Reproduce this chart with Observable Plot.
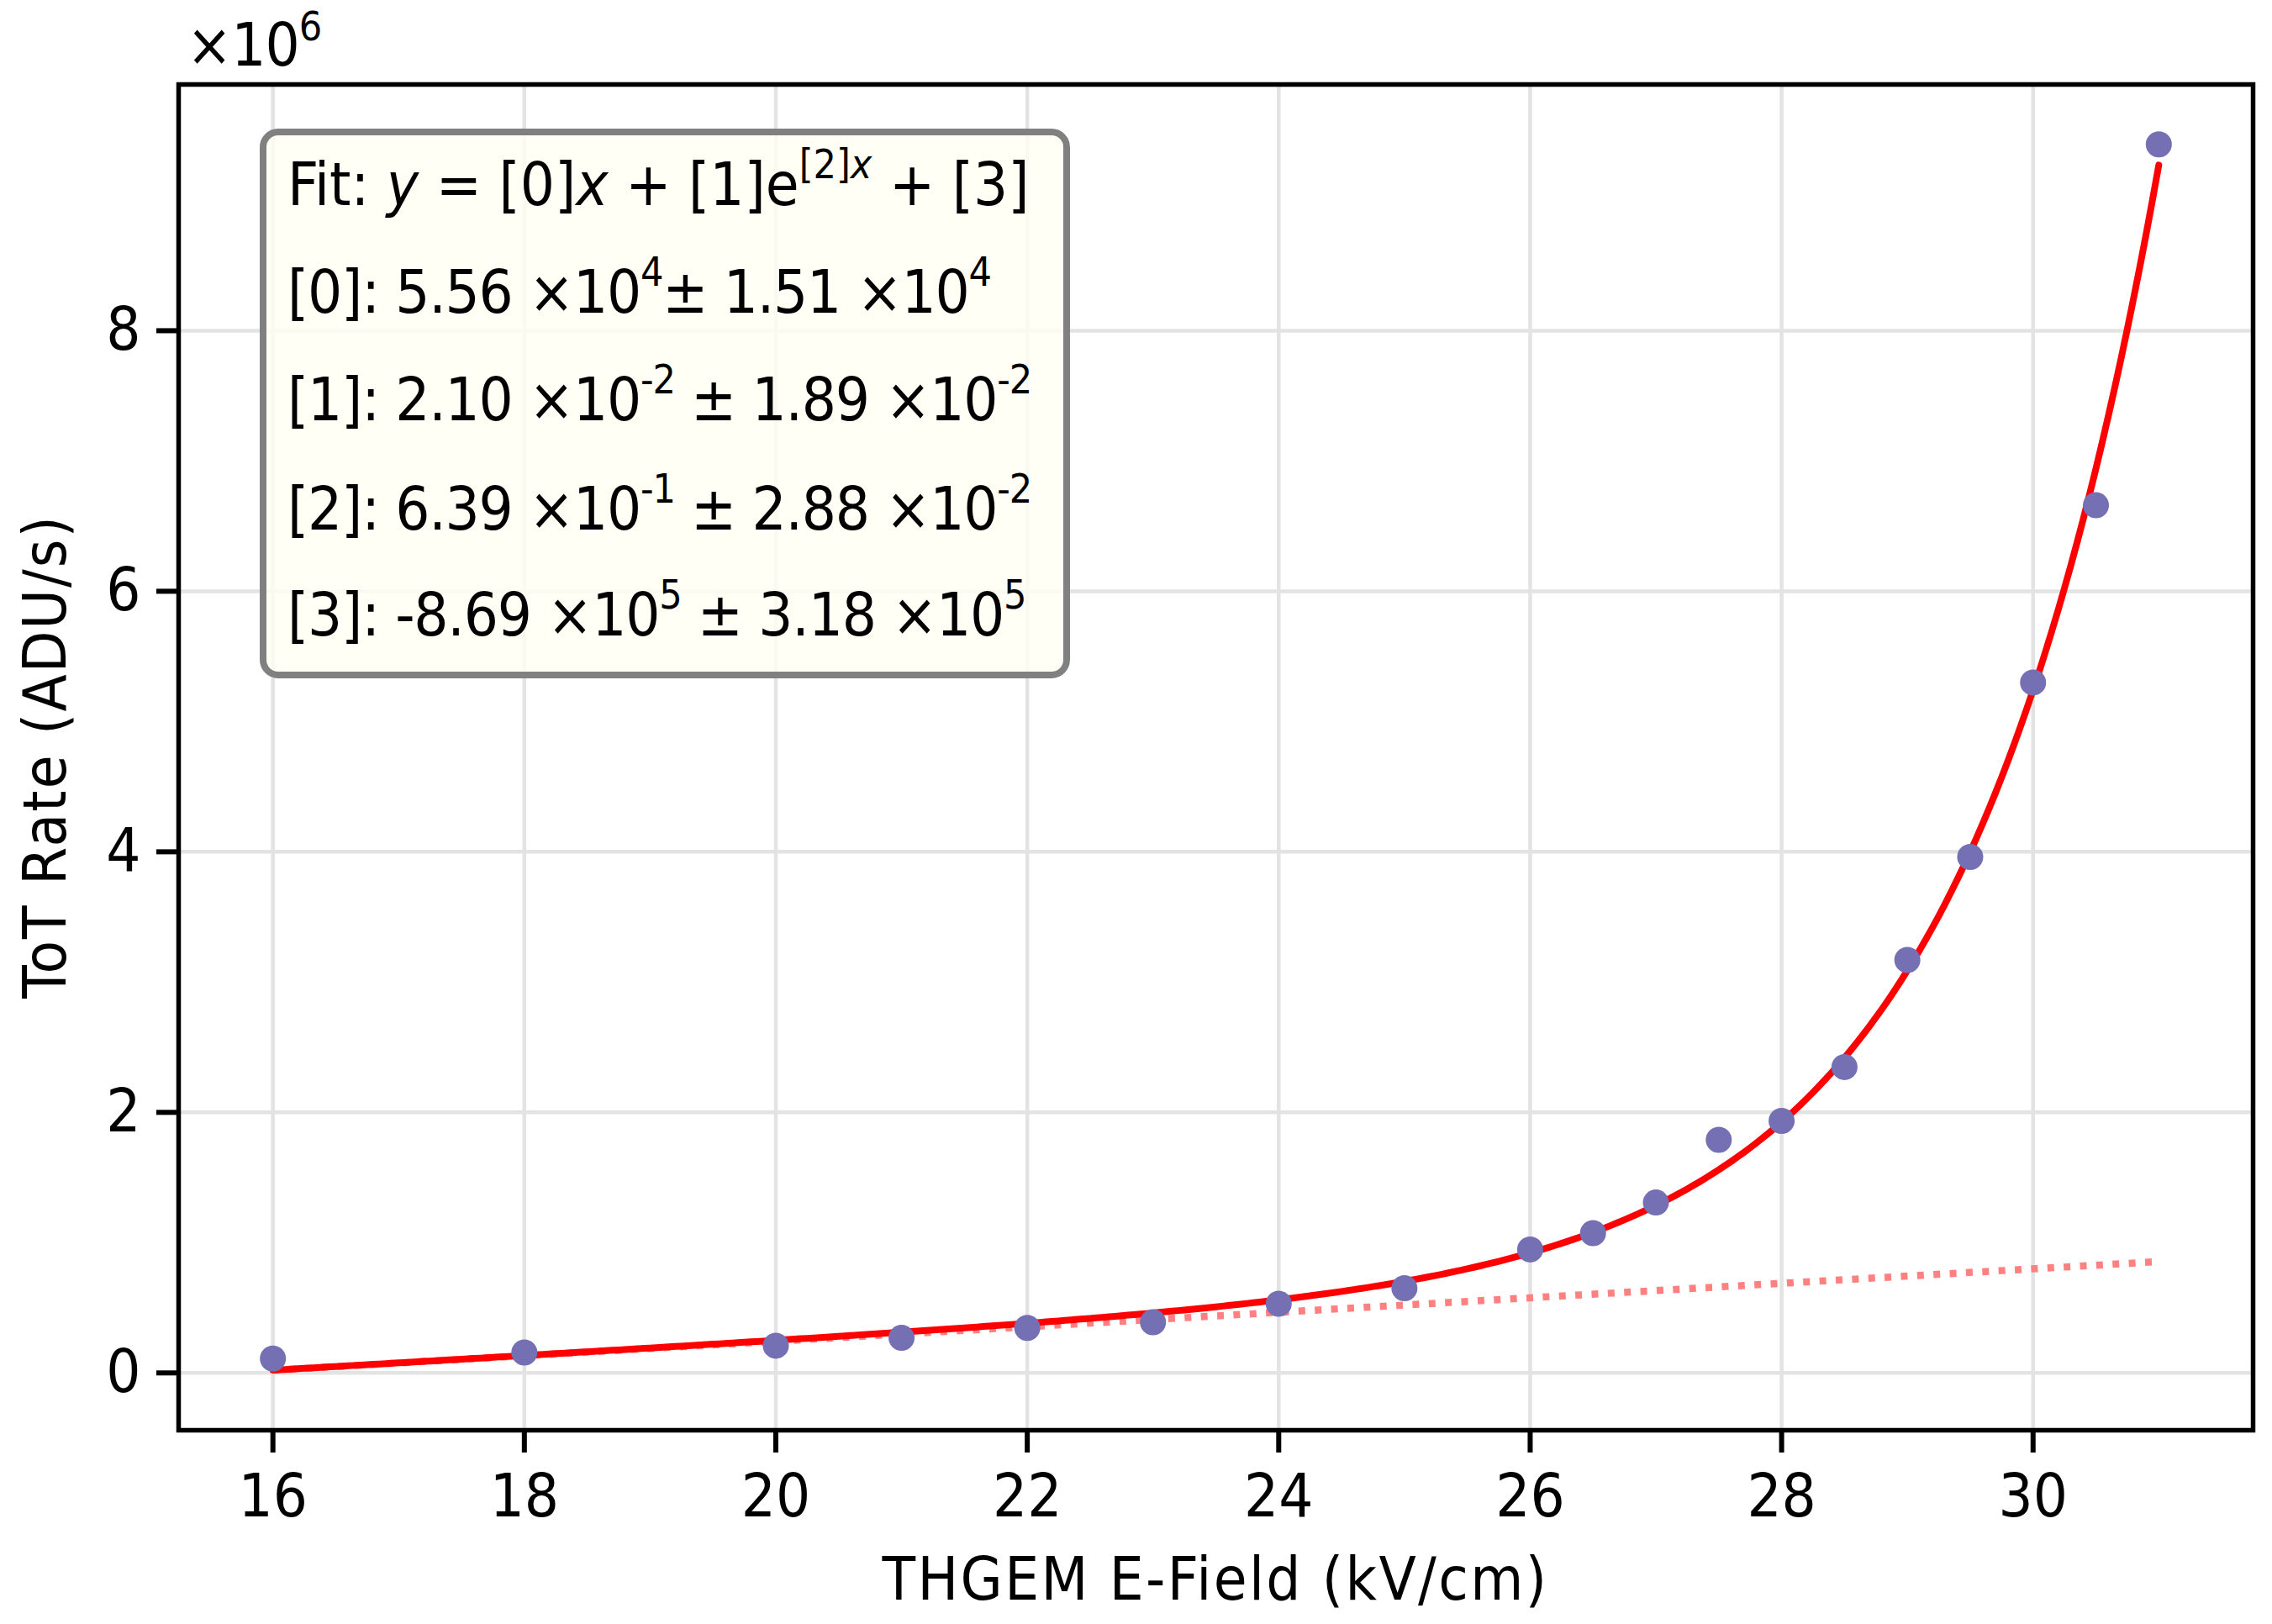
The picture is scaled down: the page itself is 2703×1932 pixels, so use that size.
<!DOCTYPE html>
<html><head><meta charset="utf-8">
<script src="https://cdn.jsdelivr.net/npm/d3@7"></script>
<script src="https://cdn.jsdelivr.net/npm/@observablehq/plot@0.6"></script>
<style>
html,body{margin:0;padding:0;background:#fff;}
</style></head><body><div id="chart"></div>
<script>
// THGEM E-field (kV/cm)
const field = [16, 18, 20, 21, 22, 23, 24, 25, 26, 26.5, 27, 27.5, 28, 28.5, 29, 29.5, 30, 30.5, 31];
// ToT rate in units of 10^6 ADU/s
const rate = [0.110, 0.157, 0.209, 0.269, 0.346, 0.389, 0.531, 0.650, 0.948, 1.073, 1.308, 1.789, 1.934, 2.348, 3.17, 3.96, 5.30, 6.66, 9.43];
// Fit: y = [0]x + [1]e^([2]x) + [3]
const fitParams = [5.56e4, 2.10e-2, 6.39e-1, -8.69e5];
const fitMant = ["5.56", "2.10", "6.39", "-8.69"];
const fitExp = ["4", "-2", "-1", "5"];
const errMant = ["1.51", "1.89", "2.88", "3.18"];
const errExp = ["4", "-2", "-2", "5"];
const xTicks = [16, 18, 20, 22, 24, 26, 28, 30];
const yTicks = [0, 2, 4, 6, 8];
const xDomain = [15.25, 31.75];
const yDomain = [-0.44, 9.89];
const fitRange = [16, 31];

const FONT = "'DejaVu Sans Condensed', 'DejaVu Sans', sans-serif";
const [p0, p1, p2, p3] = fitParams;
const points = field.map((f, i) => ({f, r: rate[i]}));
const curve = d3.range(fitRange[0], fitRange[1] + 1e-9, 0.05).map(x => ({x, y: (p0 * x + p1 * Math.exp(p2 * x) + p3) / 1e6}));
const lin = fitRange.map(x => ({x, y: (p0 * x + p3) / 1e6}));

const plot = Plot.plot({
  width: 2703, height: 1932,
  marginLeft: 212, marginRight: 23, marginTop: 100, marginBottom: 231,
  style: {fontFamily: FONT, fontSize: "72px", background: "#fff", color: "#000"},
  x: {domain: xDomain},
  y: {domain: yDomain},
  marks: [
    Plot.gridX(xTicks, {stroke: "#e3e3e3", strokeOpacity: 1, strokeWidth: 4.5}),
    Plot.gridY(yTicks, {stroke: "#e3e3e3", strokeOpacity: 1, strokeWidth: 4.5}),
    Plot.line(lin, {x: "x", y: "y", stroke: "#ff8080", strokeWidth: 8.5, strokeDasharray: "8,11.4", strokeLinecap: "butt"}),
    Plot.line(curve, {x: "x", y: "y", stroke: "#ff0000", strokeWidth: 8}),
    Plot.dot(points, {x: "f", y: "r", r: 15.5, fill: "#7470b3"}),
    Plot.axisX(xTicks, {tickSize: 27, tickPadding: 24, strokeWidth: 6, label: null, fontSize: 72, fill: "#000", tickFormat: d => String(d)}),
    Plot.axisY(yTicks, {tickSize: 26, tickPadding: 19, strokeWidth: 6, label: null, fontSize: 72, fill: "#000", tickFormat: d => String(d)}),
    Plot.frame({stroke: "#000", strokeWidth: 5.5})
  ]
});
document.getElementById("chart").appendChild(plot);

const svg = d3.select(plot);
const T = (sel) => sel.attr("font-family", FONT).attr("fill", "#000");

// axis titles
T(svg.append("text")).attr("x", 1446).attr("y", 1903).attr("text-anchor", "middle")
  .attr("font-size", 72).attr("letter-spacing", 2.4).text("THGEM E-Field (kV/cm)");
T(svg.append("text")).attr("transform", "translate(78,900) rotate(-90)").attr("text-anchor", "middle")
  .attr("font-size", 72).attr("letter-spacing", 2).text("ToT Rate (ADU/s)");

// rich text helper
function rich(sel, segs, supSize, raise) {
  let up = false;
  segs.forEach(s => {
    const ts = sel.append("tspan").text(s.t);
    if (s.i) ts.attr("font-style", "italic");
    if (s.s) {
      ts.attr("font-size", supSize);
      if (!up) { ts.attr("dy", -raise); up = true; }
    } else if (up) { ts.attr("dy", raise); up = false; }
  });
}

// ×10^6 multiplier
rich(T(svg.append("text")).attr("x", 222).attr("y", 78).attr("font-size", 72).attr("text-anchor", "start").attr("letter-spacing", -1),
  [{t: "\u00d710"}, {t: "6", s: 1}], 48, 30);

// legend box
const lg = svg.append("g");
lg.append("rect").attr("x", 313).attr("y", 157).attr("width", 956).attr("height", 646)
  .attr("rx", 18).attr("fill", "#fffff2").attr("fill-opacity", 0.8)
  .attr("stroke", "#808080").attr("stroke-width", 8);
const lines = [
  [{t: "Fit: "}, {t: "y", i: 1}, {t: " = [0]"}, {t: "x", i: 1}, {t: " + [1]e"}, {t: "[2]", s: 1}, {t: "x", s: 1, i: 1}, {t: " + [3]"}]
];
fitMant.forEach((m, k) => {
  const gap = k === 0 ? "" : " ";
  lines.push([{t: `[${k}]: ${m} \u00d710`}, {t: fitExp[k], s: 1}, {t: `${gap}\u00b1 ${errMant[k]} \u00d710`}, {t: errExp[k], s: 1}]);
});
const baselines = [244, 372, 500, 630, 756];
lines.forEach((segs, i) => {
  rich(T(lg.append("text")).attr("x", 342).attr("y", baselines[i]).attr("font-size", 72)
    .attr("text-anchor", "start").attr("letter-spacing", i === 0 ? 0 : -1.2), segs, 48, 32);
});
</script></body></html>
